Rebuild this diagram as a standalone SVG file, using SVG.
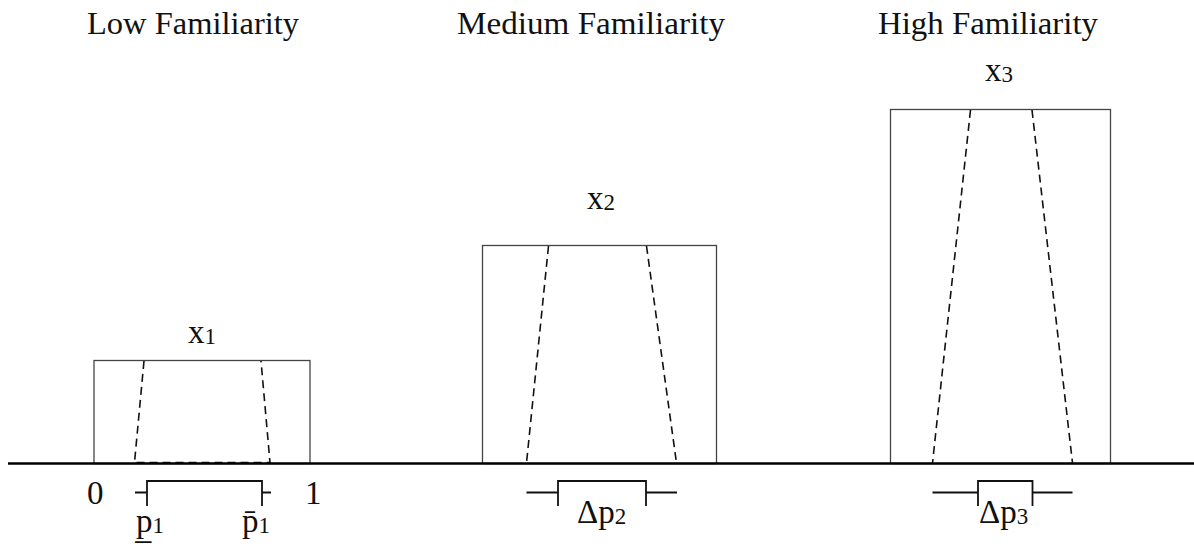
<svg xmlns="http://www.w3.org/2000/svg" width="1194" height="546" viewBox="0 0 1194 546">
<style>
text{font-family:"Liberation Serif","DejaVu Serif",serif;fill:#111}
.t{font-size:32px}
.v{font-size:33px}
.s{font-size:23px}
.box{fill:none;stroke:#444;stroke-width:1.3}
.dash{fill:none;stroke:#111;stroke-width:1.6;stroke-dasharray:8 5}
.br{fill:none;stroke:#111;stroke-width:1.8}
.axis{stroke:#000;stroke-width:2.4}
</style>
<rect width="1194" height="546" fill="#fff"/>
<g id="titles">
<text class="t" x="87" y="34" textLength="212" lengthAdjust="spacingAndGlyphs">Low Familiarity</text>
<text class="t" x="457" y="34" textLength="268" lengthAdjust="spacingAndGlyphs">Medium Familiarity</text>
<text class="t" x="878" y="34" textLength="220" lengthAdjust="spacingAndGlyphs">High Familiarity</text>
</g>
<g id="low">
<rect class="box" x="94" y="360.5" width="216" height="103"/>
<path class="dash" d="M144 361 L134.5 462.5 L270 462.5 L261 361"/>
<text class="v" x="188" y="343">x<tspan class="s" dy="1">1</tspan></text>
</g>
<g id="medium">
<rect class="box" x="482.5" y="245.5" width="234" height="218"/>
<path class="dash" d="M548.5 246 L526.5 463 M646.5 246 L676.5 463"/>
<text class="v" x="587" y="209">x<tspan class="s" dy="1">2</tspan></text>
</g>
<g id="high">
<rect class="box" x="890.5" y="109.5" width="220" height="354"/>
<path class="dash" d="M970.5 110 L932.5 463 M1032 110 L1072.5 463"/>
<text class="v" x="985" y="81">x<tspan class="s" dy="1">3</tspan></text>
</g>
<g id="connectors">
<line class="axis" x1="8" y1="463.5" x2="1194" y2="463.5"/>
<path class="br" d="M135 492.5 H147 M147 506 V481 H262 V506 M262 492.5 H271"/>
<path class="br" d="M526.5 492.5 H558 M558 506 V481 H646 V506 M646 492.5 H677"/>
<path class="br" d="M932.5 492.5 H978 M978 506 V481 H1032.5 V506 M1032.5 492.5 H1072.5"/>
</g>
<g id="labels">
<text class="v" x="87" y="504">0</text>
<text class="v" x="305" y="504">1</text>
<text class="v" x="136" y="532">p̲<tspan class="s" dy="1">1</tspan></text>
<text class="v" x="242" y="532">p̄<tspan class="s" dy="1">1</tspan></text>
<text class="v" x="577" y="523">Δp<tspan class="s" dy="1">2</tspan></text>
<text class="v" x="979" y="523">Δp<tspan class="s" dy="1">3</tspan></text>
</g>
</svg>
